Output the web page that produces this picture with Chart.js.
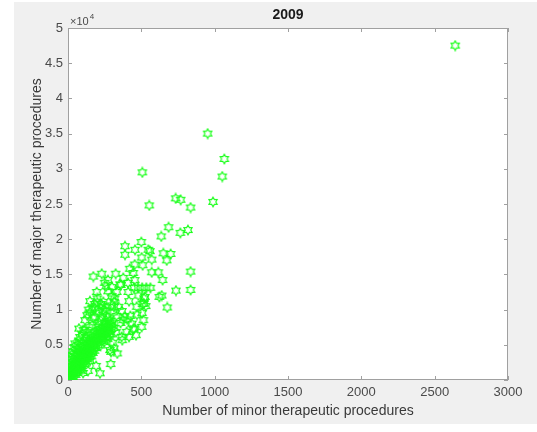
<!DOCTYPE html>
<html><head><meta charset="utf-8">
<script src="https://cdn.jsdelivr.net/npm/chart.js@4/dist/chart.umd.min.js"></script>
<style>html,body{margin:0;padding:0;background:#fff}#wrap{width:537px;height:432px}</style>
</head><body><div id="wrap"><canvas id="c" width="537" height="432"></canvas></div>
<script>
const chartTitle = '2009';
const xAxisLabel = 'Number of minor therapeutic procedures';
const yAxisLabel = 'Number of major therapeutic procedures';
const xTicks = [0, 500, 1000, 1500, 2000, 2500, 3000];
const yTicks = [0, 5000, 10000, 15000, 20000, 25000, 30000, 35000, 40000, 45000, 50000];
const yExponentBase = '×10';
const yExponent = '4';

// minor therapeutic procedures (x)
const minorProcedures = [
  2640, 952, 1066, 1052, 507, 554, 734, 768, 836, 989, 686, 636, 766, 818, 500, 548, 650, 700, 673, 502,
  571, 509, 836, 571, 616, 645, 450, 478, 506, 534, 562, 736, 836, 639, 623, 525, 677, 509, 389, 457,
  389, 559, 455, 421, 173, 230, 325, 377, 273, 455, 409, 196, 273, 332, 411, 318, 416, 518, 182, 241,
  314, 468, 530, 360, 300, 250, 445, 260, 355, 480, 300, 200, 150, 235,
  286, 464, 400, 502, 514, 366, 105, 75, 116, 130, 140, 150, 166, 173, 180, 185, 200, 210, 225, 240,
  260, 377, 450, 416, 370, 314, 336, 518, 314,
  205, 212, 230, 238, 250, 255, 268, 282, 298, 310, 330, 345, 358, 368, 385, 405, 425, 445, 470, 505,
  436, 305, 328, 258, 270, 290, 315, 278, 262, 295, 242, 248, 222, 235, 218, 293,
  3, 5, 6, 8, 9, 10, 12, 13, 15, 16, 18, 19, 20, 22, 23, 25, 26, 28, 30, 31,
  33, 34, 35, 37, 38, 40, 41, 43, 45, 46, 48, 49, 50, 52, 53, 55, 56, 58, 60, 61,
  62, 64, 65, 67, 68, 70, 71, 72, 74, 75, 77, 78, 80, 81, 82, 84, 85, 87, 88, 90,
  91, 92, 94, 95, 97, 98, 100, 101, 103, 105, 107, 108, 110, 112, 114, 115, 117, 118, 120, 122,
  123, 125, 127, 128, 130, 132, 133, 135, 137, 138, 140, 141, 142, 145, 147, 148, 150, 152, 155, 157,
  158, 160, 162, 165, 167, 168, 170, 172, 175, 178, 180, 182, 185, 188, 190, 192, 195, 198, 200, 205,
  208, 210, 215, 218, 220, 225, 228, 232, 235, 240, 245, 248, 252, 255, 260, 265, 270, 275, 280, 285,
  291, 290, 295, 300
];
// major therapeutic procedures (y)
const majorProcedures = [
  47500, 35000, 31400, 28900, 29500, 24800, 25800, 25600, 24500, 25300, 21700, 20400, 20900, 21300, 19600, 18500, 18000, 17900, 17000, 17400,
  17100, 16300, 15400, 15300, 15300, 14200, 13100, 13100, 13100, 13100, 13100, 12700, 12800, 12000, 11800, 11800, 10300, 10800, 19000, 18500,
  17800, 18300, 16400, 15800, 14700, 15100, 15100, 14500, 14200, 14200, 13800, 12500, 12600, 12500, 12500, 11600, 11200, 11600, 10800, 11100,
  10400, 10400, 10500, 13500, 13200, 13800, 15200, 13300, 13600, 12000, 11900, 11600, 11200, 10500,
  4250, 6370, 6840, 7550, 8500, 6130, 7080, 7300, 8500, 9200, 10000, 9600, 10150, 8780, 9000, 10200, 11000, 9700, 10800, 9900,
  10300, 8500, 7320, 6130, 5660, 4490, 3780, 10860, 11090,
  7600, 8200, 8700, 9300, 8100, 9800, 8900, 8400, 10600, 9600, 9100, 10400, 8100, 9800, 9000, 8600, 9100, 7200, 9300, 9500,
  8000, 5300, 6800, 6600, 5800, 6500, 7400, 7200, 7600, 7800, 7000, 5400, 4900, 6100, 6700, 4000,
  150, 420, 900, 250, 1300, 650, 300, 1800, 950, 2400, 520, 3100, 1250, 700, 2000, 850, 3600, 1550, 1050, 2600,
  420, 4100, 1350, 3000, 1850, 950, 2300, 4700, 1650, 3400, 2050, 5200, 1300, 730, 2700, 1950, 3800, 2350, 1550, 4400,
  1050, 3100, 2150, 5000, 2650, 1750, 3500, 1200, 5600, 2450, 4100, 2950, 2050, 6100, 1450, 3700, 2750, 4600, 3250, 2250,
  5300, 1650, 3900, 3050, 6600, 3550, 2550, 4700, 1000, 3300, 5600, 2900, 4100, 3800, 7100, 2300, 4900, 3150, 4050, 2650,
  6000, 3550, 5200, 4350, 2950, 3850, 6800, 4650, 1300, 3250, 4250, 5700, 5050, 3650, 7500, 4550, 2750, 5350, 4050, 6300,
  4850, 3350, 5650, 4350, 7800, 5150, 3850, 6050, 4750, 5550, 4150, 6350, 5050, 5850, 4550, 2000, 6650, 5350, 6150, 4950,
  6950, 5750, 6450, 950, 7250, 6050, 6850, 5550, 7550, 6350, 7150, 5950, 7850, 6650, 7450, 6150, 8150, 6950, 7750, 6450,
  2270, 8450, 7250, 8050
];

const points = minorProcedures.map((v, i) => ({ x: v, y: majorProcedures[i] }));

// hexagram marker
function makeHexagram(color) {
  const size = 12, c = document.createElement('canvas');
  c.width = size; c.height = size;
  const g = c.getContext('2d');
  const cx = size / 2, cy = size / 2, ro = 4.8, ri = 2.77;
  g.beginPath();
  for (let k = 0; k < 12; k++) {
    const r = k % 2 === 0 ? ro : ri;
    const a = -Math.PI / 2 + k * Math.PI / 6;
    const px = cx + r * Math.cos(a), py = cy + r * Math.sin(a);
    if (k === 0) g.moveTo(px, py); else g.lineTo(px, py);
  }
  g.closePath();
  g.strokeStyle = color; g.lineWidth = 1.1; g.stroke();
  return c;
}
const marker = makeHexagram('#1cff1c');

const FONT = "'Liberation Sans', Arial, Helvetica, sans-serif";
const AXIS_COLOR = '#a0a0a0';
const TEXT_COLOR = '#4a4a4a';

const decor = {
  id: 'decor',
  beforeDraw(chart) {
    const { ctx, chartArea: a } = chart;
    ctx.save();
    ctx.fillStyle = '#ffffff'; ctx.fillRect(0, 0, chart.width, chart.height);
    ctx.fillStyle = '#f0f0f0'; ctx.fillRect(14, 2, chart.width - 14, 422);
    ctx.fillStyle = '#ffffff'; ctx.fillRect(a.left, a.top, a.right - a.left, a.bottom - a.top);
    ctx.restore();
  },
  beforeDatasetsDraw(chart) {
    const { ctx, chartArea: a, scales: { x, y } } = chart;
    ctx.save();
    ctx.strokeStyle = AXIS_COLOR; ctx.lineWidth = 1;
    ctx.strokeRect(a.left + 0.5, a.top + 0.5, a.right - a.left - 1, a.bottom - a.top - 1);
    const tl = 4;
    ctx.beginPath();
    xTicks.forEach(v => {
      const px = Math.round(x.getPixelForValue(v)) + 0.5;
      ctx.moveTo(px, a.bottom); ctx.lineTo(px, a.bottom - tl);
      ctx.moveTo(px, a.top); ctx.lineTo(px, a.top + tl);
    });
    yTicks.forEach(v => {
      const py = Math.round(y.getPixelForValue(v)) + 0.5;
      ctx.moveTo(a.left, py); ctx.lineTo(a.left + tl, py);
      ctx.moveTo(a.right, py); ctx.lineTo(a.right - tl, py);
    });
    ctx.stroke();
    ctx.restore();
  },
  afterDraw(chart) {
    const { ctx, chartArea: a } = chart;
    ctx.save();
    ctx.fillStyle = TEXT_COLOR;
    ctx.textBaseline = 'alphabetic';
    ctx.font = '11px ' + FONT;
    ctx.fillText(yExponentBase, a.left + 2, a.top - 3);
    const w = ctx.measureText(yExponentBase).width;
    ctx.font = '8px ' + FONT;
    ctx.fillText(yExponent, a.left + 2 + w + 1, a.top - 9);
    ctx.restore();
  }
};

new Chart(document.getElementById('c'), {
  type: 'scatter',
  data: {
    datasets: [{
      data: points,
      pointStyle: marker,
      pointRadius: 4.5,
      pointHoverRadius: 4.5,
      showLine: false
    }]
  },
  options: {
    responsive: false,
    devicePixelRatio: 1,
    animation: false,
    events: [],
    layout: { padding: { left: 0, right: 29, top: 0, bottom: 0 } },
    plugins: {
      legend: { display: false },
      tooltip: { enabled: false },
      title: {
        display: true, text: chartTitle, fullSize: false,
        color: '#1a1a1a',
        font: { family: FONT, size: 14, weight: 'bold', lineHeight: 1.2 },
        padding: { top: 7, bottom: 4.2 }
      }
    },
    scales: {
      x: {
        type: 'linear', min: 0, max: 3000,
        afterBuildTicks: s => { s.ticks = xTicks.map(v => ({ value: v })); },
        ticks: { color: TEXT_COLOR, font: { family: FONT, size: 13 }, padding: 5, maxRotation: 0, autoSkip: false,
          callback: v => String(v) },
        grid: { display: false, drawTicks: false },
        border: { display: false },
        title: { display: true, text: xAxisLabel, color: '#3a3a3a', font: { family: FONT, size: 14 }, padding: { top: 0, bottom: 12 } },
        afterFit: s => { s.height = 52; }
      },
      y: {
        type: 'linear', min: 0, max: 50000,
        afterBuildTicks: s => { s.ticks = yTicks.map(v => ({ value: v })); },
        ticks: { color: TEXT_COLOR, font: { family: FONT, size: 13 }, padding: 5, autoSkip: false,
          callback: v => String(v / 10000) },
        grid: { display: false, drawTicks: false },
        border: { display: false },
        title: { display: true, text: yAxisLabel, color: '#3a3a3a', font: { family: FONT, size: 14 }, padding: { top: 29, bottom: 0 } },
        afterFit: s => { s.width = 68; }
      }
    }
  },
  plugins: [decor]
});
</script>
</body></html>
